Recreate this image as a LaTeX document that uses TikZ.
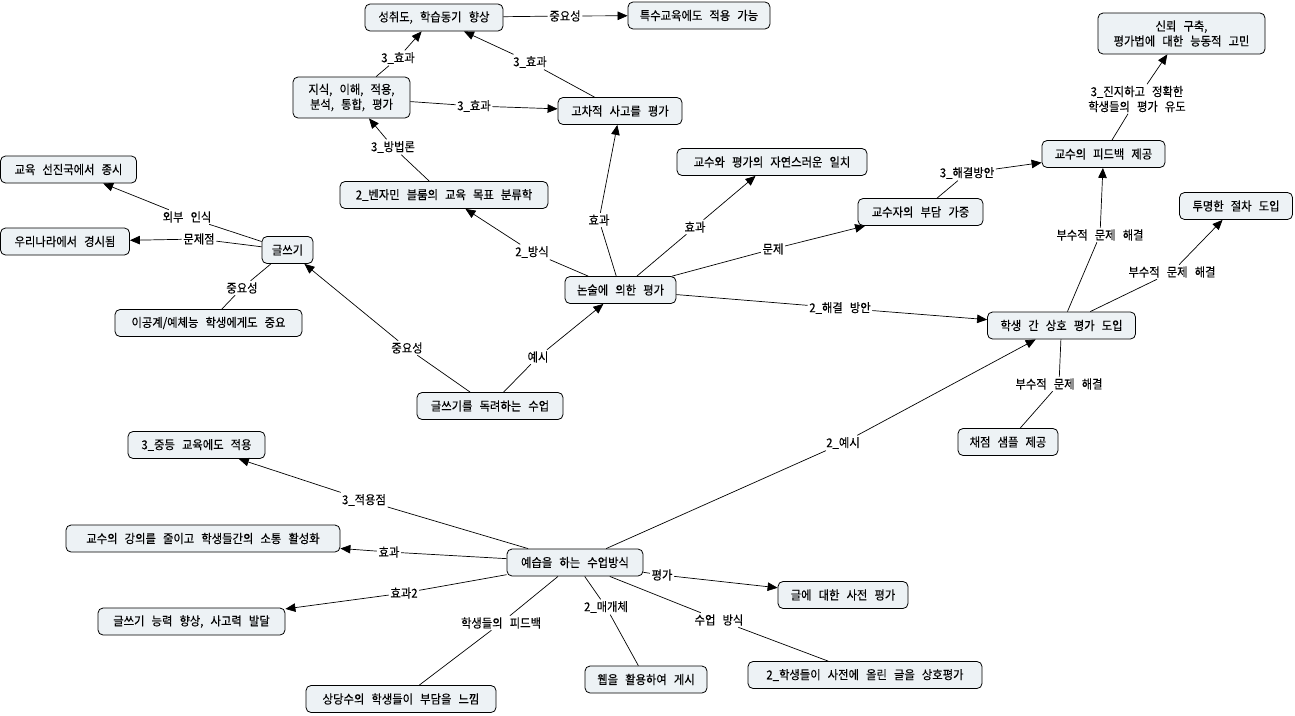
\documentclass[tikz,border=0pt]{standalone}
\usepackage{fontspec}
\setmainfont[WordSpace=2.8, FakeStretch=0.92, FakeBold=0.25]{Noto Sans CJK KR}
\usetikzlibrary{arrows.meta}
\definecolor{boxfill}{HTML}{EDF2F5}
\newcommand\cmfont{\fontsize{12.3}{15}\selectfont}
\begin{document}
\begin{tikzpicture}[x=1pt,y=-1pt,
  box/.style={draw=black, line width=0.8pt, rounded corners=5pt, fill=boxfill, minimum height=27pt, inner xsep=1pt, inner ysep=2pt, font=\cmfont, align=center},
  lbl/.style={inner sep=1.5pt, font=\cmfont, align=center},
  con/.style={line width=0.7pt, draw=black},
  arr/.style={con, -{Triangle[length=10pt,width=8.5pt]}}]
\path[use as bounding box, fill=white] (0,0) rectangle (1295,715);
% nodes
\node[box, minimum width=138pt] (sc) at (434,17.5) {성취도, 학습동기 향상};
\node[box, minimum width=142pt] (tk) at (699,15.5) {특수교육에도 적용 가능};
\node[box, minimum width=117pt, minimum height=41pt] (ji) at (351.5,97.5) {지식, 이해, 적용,\\분석, 통합, 평가};
\node[box, minimum width=124pt] (gc) at (620,111) {고차적 사고를 평가};
\node[box, minimum width=208pt] (bj) at (444,195) {2\_벤자민 블룸의 교육 목표 분류학};
\node[box, minimum width=111pt] (ns) at (620.5,290) {논술에 의한 평가};
\node[box, minimum width=146pt] (gd) at (490,406) {글쓰기를 독려하는 수업};
\node[box, minimum width=51pt] (gs) at (287.5,250) {글쓰기};
\node[box, minimum width=136pt] (ed) at (68.5,169.5) {교육 선진국에서 종시};
\node[box, minimum width=129pt] (ur) at (65,241.5) {우리나라에서 경시됨};
\node[box, minimum width=187pt] (ig) at (208.5,323) {이공계/예체능 학생에게도 중요};
\node[box, minimum width=167pt, minimum height=41pt] (sr) at (1181.5,33.5) {신뢰 구축,\\평가법에 대한 능동적 고민};
\node[box, minimum width=123pt] (pf) at (1103.5,154) {교수의 피드백 제공};
\node[box, minimum width=125pt] (bd) at (920.5,212) {교수자의 부담 가중};
\node[box, minimum width=190pt] (ip) at (772,162) {교수와 평가의 자연스러운 일치};
\node[box, minimum width=113pt] (tm) at (1236,206) {투명한 절차 도입};
\node[box, minimum width=148pt] (sh) at (1061.5,325.5) {학생 간 상호 평가 도입};
\node[box, minimum width=100pt] (cj) at (1008,442) {채점 샘플 제공};
\node[box, minimum width=137pt] (jd) at (196.5,445) {3\_중등 교육에도 적용};
\node[box, minimum width=274pt] (gk) at (203,538.5) {교수의 강의를 줄이고 학생들간의 소통 활성화};
\node[box, minimum width=187pt] (gn) at (191.5,621.5) {글쓰기 능력 향상, 사고력 발달};
\node[box, minimum width=136pt] (ys) at (575,562.5) {예습을 하는 수업방식};
\node[box, minimum width=190pt] (sd) at (401,699) {상당수의 학생들이 부담을 느낌};
\node[box, minimum width=122pt] (wb) at (646,679.5) {웹을 활용하여 게시};
\node[box, minimum width=130pt] (ge) at (843,595) {글에 대한 사전 평가};
\node[box, minimum width=234pt] (hs) at (865,675) {2\_학생들이 사전에 올린 글을 상호평가};
% labels
\node[lbl] (l1) at (565,16) {중요성};
\node[lbl] (l2) at (398,58) {3\_효과};
\node[lbl] (l3) at (530,62) {3\_효과};
\node[lbl] (l4) at (474,106) {3\_효과};
\node[lbl] (l5) at (393,147) {3\_방법론};
\node[lbl] (l6) at (532,252) {2\_방식};
\node[lbl] (l7) at (599,220) {효과};
\node[lbl] (l8) at (695,227) {효과};
\node[lbl] (l9) at (773,249) {문제};
\node[lbl] (l10) at (967,173) {3\_해결방안};
\node[lbl] (l11) at (1137,99) {3\_진지하고 정확한\\학생들의 평가 유도};
\node[lbl] (l12) at (1100,235) {부수적 문제 해결};
\node[lbl] (l13) at (1172,272) {부수적 문제 해결};
\node[lbl] (l14) at (840,308) {2\_해결 방안};
\node[lbl] (l15) at (1059,384) {부수적 문제 해결};
\node[lbl] (l16) at (843,443) {2\_예시};
\node[lbl] (l17) at (538,357) {예시};
\node[lbl] (l18) at (407,348) {중요성};
\node[lbl] (l19) at (187,217) {외부 인식};
\node[lbl] (l20) at (199,239) {문제점};
\node[lbl] (l21) at (242,288) {중요성};
\node[lbl] (l22) at (364,500) {3\_적용점};
\node[lbl] (l23) at (389,552) {효과};
\node[lbl] (l24) at (404,593) {효과2};
\node[lbl] (l25) at (662,575) {평가};
\node[lbl] (l26) at (501,623) {학생들의 피드백};
\node[lbl] (l27) at (606,607) {2\_매개체};
\node[lbl] (l28) at (719,620) {수업 방식};
% connectors
\draw[con] (sc) -- (l1); \draw[arr] (l1) -- (tk);
\draw[con] (ji) -- (l2); \draw[arr] (l2) -- (sc);
\draw[con] (gc) -- (l3); \draw[arr] (l3) -- (sc);
\draw[con] (ji) -- (l4); \draw[arr] (l4) -- (gc);
\draw[con] (bj) -- (l5); \draw[arr] (l5) -- (ji);
\draw[con] (ns) -- (l6); \draw[arr] (l6) -- (bj);
\draw[con] (ns) -- (l7); \draw[arr] (l7) -- (gc);
\draw[con] (ns) -- (l8); \draw[arr] (l8) -- (ip);
\draw[con] (ns) -- (l9); \draw[arr] (l9) -- (bd);
\draw[con] (bd) -- (l10); \draw[arr] (l10) -- (pf);
\draw[con] (pf) -- (l11); \draw[arr] (l11) -- (sr);
\draw[con] (sh) -- (l12); \draw[arr] (l12) -- (pf);
\draw[con] (sh) -- (l13); \draw[arr] (l13) -- (tm);
\draw[con] (ns) -- (l14); \draw[arr] (l14) -- (sh);
\draw[con] (cj) -- (l15); \draw[con] (l15) -- (sh);
\draw[con] (ys) -- (l16); \draw[arr] (l16) -- (sh);
\draw[con] (gd) -- (l17); \draw[arr] (l17) -- (ns);
\draw[con] (gd) -- (l18); \draw[arr] (l18) -- (gs);
\draw[con] (gs) -- (l19); \draw[arr] (l19) -- (ed);
\draw[con] (gs) -- (l20); \draw[arr] (l20) -- (ur);
\draw[con] (gs) -- (l21); \draw[con] (l21) -- (ig);
\draw[con] (ys) -- (l22); \draw[arr] (l22) -- (jd);
\draw[con] (ys) -- (l23); \draw[arr] (l23) -- (gk);
\draw[con] (ys) -- (l24); \draw[arr] (l24) -- (gn);
\draw[con] (ys) -- (l25); \draw[arr] (l25) -- (ge);
\draw[con] (ys) -- (l26); \draw[con] (l26) -- (sd);
\draw[con] (ys) -- (l27); \draw[con] (l27) -- (wb);
\draw[con] (ys) -- (l28); \draw[con] (l28) -- (hs);
\end{tikzpicture}
\end{document}
